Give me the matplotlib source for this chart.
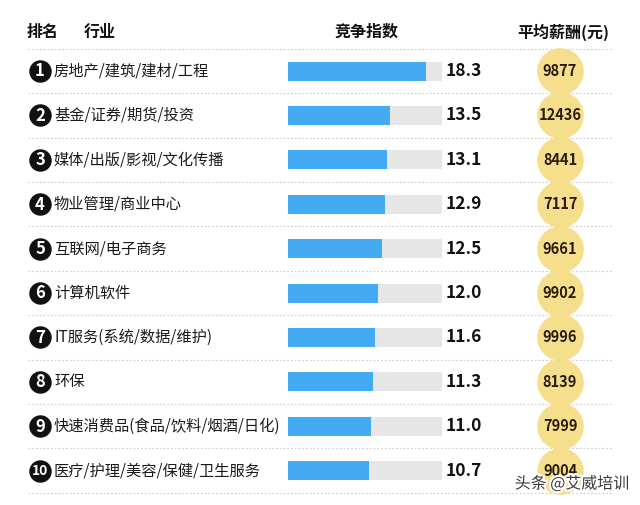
import matplotlib.pyplot as plt
import matplotlib.patheffects as pe

plt.rcParams['font.family'] = ['Noto Sans CJK SC', 'DejaVu Sans']
NUM_FONT = ['Liberation Sans Narrow', 'DejaVu Sans Condensed', 'Noto Sans CJK SC']

ranks = ['1', '2', '3', '4', '5', '6', '7', '8', '9', '10']
industries = ['房地产/建筑/建材/工程', '基金/证券/期货/投资', '媒体/出版/影视/文化传播',
              '物业管理/商业中心', '互联网/电子商务', '计算机软件',
              'IT服务(系统/数据/维护)', '环保', '快速消费品(食品/饮料/烟酒/日化)',
              '医疗/护理/美容/保健/卫生服务']
competition = [18.3, 13.5, 13.1, 12.9, 12.5, 12.0, 11.6, 11.3, 11.0, 10.7]
salary = [9877, 12436, 8441, 7117, 9661, 9902, 9996, 8139, 7999, 9004]
bar_max = 20.4

W, H = 640, 505
fig = plt.figure(figsize=(W / 100, H / 100), dpi=100)
ax = fig.add_axes([0, 0, 1, 1])
ax.set_xlim(0, W)
ax.set_ylim(H, 0)
ax.axis('off')

ys = [71 + 44.4 * i for i in range(len(ranks))]

# header
hdr = dict(fontsize=11.5, fontweight='bold', va='center', color='#111111')
ax.text(27, 32, '排名', ha='left', **hdr)
ax.text(84, 32, '行业', ha='left', **hdr)
ax.text(367, 32, '竞争指数', ha='center', **hdr)
ax.text(563, 32, '平均薪酬(元)', ha='center', **hdr)

# dotted separators
for y in [49] + [y + 22.2 for y in ys]:
    ax.plot([28, 612], [y, y], color='#d2d2d2', lw=0.9, ls=(0, (1.5, 1.5)))

# rank badges + industry names
ax.scatter([40] * len(ys), ys, s=230, color='#111111', zorder=3)
for r, name, y in zip(ranks, industries, ys):
    ax.text(40, y + 0.5, r, ha='center', va='center', color='white',
            fontsize=12 if len(r) == 1 else 10, fontweight='bold',
            family=NUM_FONT, zorder=4)
    ax.text(54, y, name, ha='left', va='center', fontsize=11, color='#1a1a1a')

# bars in their own axes, sharing the row positions
bax = fig.add_axes([288 / W, 0, (441.7 - 288) / W, 1], sharey=ax)
bax.set_xlim(0, bar_max)
bax.axis('off')
bax.barh(ys, [bar_max] * len(ys), height=19, color='#e6e6e6')
bax.barh(ys, competition, height=19, color='#44aaf2')

for v, y in zip(competition, ys):
    ax.text(446, y, '%.1f' % v, ha='left', va='center', fontsize=12.5,
            fontweight='bold', family=NUM_FONT, color='#111111')

# salary bubbles
ax.scatter([560] * len(ys), ys, s=1060, color='#f6df8c', zorder=2)
for s, y in zip(salary, ys):
    ax.text(560, y, str(s), ha='center', va='center', fontsize=10.5,
            fontweight='bold', family=NUM_FONT, color='#2a1c0c', zorder=3)

ax.text(572, 484, '头条 @艾威培训', ha='center', va='center', fontsize=11.5,
        color='#3a3a3a', zorder=5,
        path_effects=[pe.withStroke(linewidth=3, foreground='white')])

fig.savefig('out.png', dpi=100)
